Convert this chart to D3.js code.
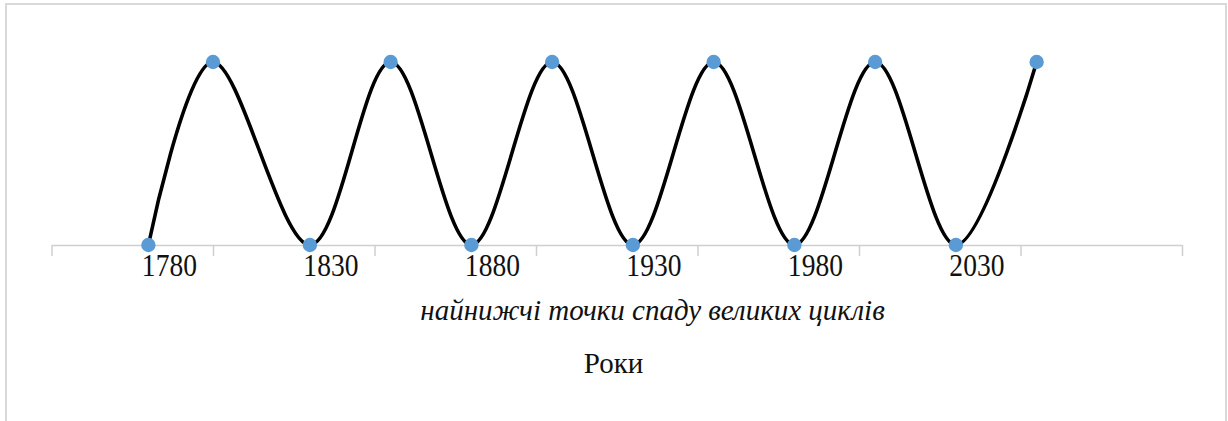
<!DOCTYPE html>
<html>
<head>
<meta charset="utf-8">
<script src="https://cdn.jsdelivr.net/npm/d3@7"></script>
<style>
  html, body { margin: 0; padding: 0; background: #fff; }
  svg { display: block; }
</style>
</head>
<body>
<svg id="chart" width="1228" height="421"></svg>
<script>
// ---- data ----
const years  = [1780, 1800, 1830, 1855, 1880, 1905, 1930, 1955, 1980, 2005, 2030, 2055];
const values = [0, 1, 0, 1, 0, 1, 0, 1, 0, 1, 0, 1];
const axisTicks = [1750, 1800, 1850, 1900, 1950, 2000, 2050, 2100];
const tickLabels = ["1780", "1830", "1880", "1930", "1980", "2030"];
const subtitleText = "найнижчі точки спаду великих циклів";
const axisTitleText = "Роки";

// ---- layout ----
const svg = d3.select("#chart");

// outer frame
svg.append("rect")
  .attr("x", 6).attr("y", 4)
  .attr("width", 1220).attr("height", 440)
  .attr("fill", "#fff")
  .attr("stroke", "#d9d9d9")
  .attr("stroke-width", 2);

const x = d3.scaleLinear().domain([1750, 2100]).range([51.5, 1182]);
const y = d3.scaleLinear().domain([0, 1]).range([245, 62]);

// x axis
const axis = d3.axisBottom(x)
  .tickValues(axisTicks)
  .tickSize(11)
  .tickSizeOuter(0)
  .tickFormat("");
const gAxis = svg.append("g")
  .attr("transform", `translate(0,${y(0)})`)
  .call(axis);
gAxis.select(".domain").attr("stroke", "#cfcfcf").attr("stroke-width", 1.5);
gAxis.selectAll(".tick line").attr("stroke", "#cfcfcf").attr("stroke-width", 1.5);

// smooth line
const pts = years.map((yr, i) => ({ yr, v: values[i] }));
const line = d3.line()
  .x(d => x(d.yr))
  .y(d => y(d.v))
  .curve(d3.curveCardinal.tension(0));
svg.append("path")
  .datum(pts)
  .attr("d", line)
  .attr("fill", "none")
  .attr("stroke", "#000")
  .attr("stroke-width", 3.6);

// markers
svg.selectAll("circle.pt")
  .data(pts)
  .enter().append("circle")
  .attr("class", "pt")
  .attr("cx", d => x(d.yr))
  .attr("cy", d => y(d.v))
  .attr("r", 7.2)
  .attr("fill", "#5b9bd5");

// year labels
const font = "Liberation Serif, Times New Roman, serif";
svg.selectAll("text.yl")
  .data(tickLabels)
  .enter().append("text")
  .attr("class", "yl")
  .attr("transform", d => `translate(${x(+d) + 21},275.5) scale(1.02,1.16)`)
  .attr("text-anchor", "middle")
  .style("font-family", font)
  .attr("font-size", 27)
  .attr("fill", "#111")
  .text(d => d);

svg.append("text")
  .attr("transform", `translate(652.5,320) scale(1,1.02)`)
  .attr("text-anchor", "middle")
  .style("font-family", font)
  .attr("font-style", "italic")
  .attr("font-size", 29)
  .attr("fill", "#111")
  .text(subtitleText);

svg.append("text")
  .attr("transform", `translate(613.5,373) scale(1,1.05)`)
  .attr("text-anchor", "middle")
  .style("font-family", font)
  .attr("font-size", 29)
  .attr("fill", "#111")
  .text(axisTitleText);
</script>
</body>
</html>
